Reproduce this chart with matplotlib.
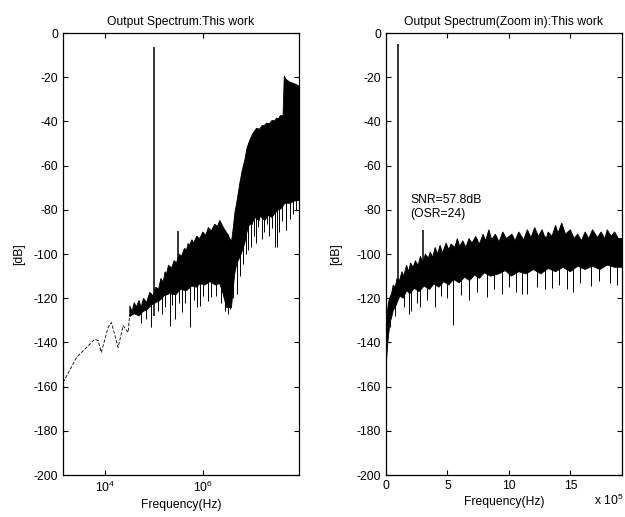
import numpy as np
import matplotlib
matplotlib.use("Agg")
import matplotlib.pyplot as plt

plt.rcParams['font.family'] = ['Liberation Sans', 'DejaVu Sans']
plt.rcParams['mathtext.default'] = 'regular'
plt.rcParams['axes.unicode_minus'] = False

# ---------------- Left panel data (log frequency, Hz / dB) ----------------
left_sparse_f = [1.41e3, 2.65e3, 4.24e3, 6.25e3, 7.3e3, 8.5e3, 1.17e4, 1.37e4, 1.87e4, 2.37e4, 2.99e4, 3.23e4]
left_sparse_db = [-158.1, -146.8, -142.3, -138.5, -139.2, -144.5, -133.2, -131.0, -142.3, -132.4, -135.5, -127.1]

left_up_f = [3.24e4, 3.6e4, 4.0e4, 4.4e4, 5.0e4, 5.5e4, 6.2e4, 7.1e4, 8.3e4, 9.5e4, 1.1e5, 1.25e5,
             1.4e5, 1.55e5, 1.7e5, 1.82e5, 2.0e5, 2.3e5, 2.6e5, 2.9e5, 3.3e5, 3.7e5, 4.2e5, 4.7e5,
             5.0e5, 5.4e5, 6.0e5, 6.5e5, 7.5e5, 8.7e5, 1.0e6, 1.15e6, 1.3e6, 1.5e6, 1.75e6, 2.0e6,
             2.22e6, 2.5e6, 2.8e6, 3.2e6, 3.56e6, 3.85e6, 4.2e6, 4.5e6, 5.0e6, 5.7e6, 6.4e6, 7.2e6,
             8.0e6, 9.1e6, 1.05e7, 1.25e7, 1.45e7, 1.6e7, 1.8e7, 2.0e7, 2.3e7, 2.6e7, 2.9e7, 3.2e7,
             3.5e7, 3.8e7, 4.35e7, 4.6e7, 5.0e7, 5.96e7, 7.5e7, 9.2e7]
left_up_db = [-123.4, -126.0, -122.0, -124.0, -121.0, -124.0, -120.0, -122.0, -117.3, -119.0, -115.0, -116.0,
              -111.0, -113.0, -108.0, -109.0, -105.0, -106.5, -103.0, -104.0, -100.0, -101.0, -97.5, -98.0,
              -95.2, -96.0, -93.5, -95.0, -92.0, -93.0, -90.0, -91.5, -88.0, -89.5, -86.5, -87.5,
              -84.8, -87.0, -89.0, -91.0, -93.0, -94.6, -88.0, -81.6, -76.0, -68.0, -62.0, -57.6,
              -52.0, -48.5, -45.5, -43.1, -43.5, -42.0, -41.8, -40.8, -41.0, -39.5, -39.8, -38.5,
              -38.8, -37.5, -37.2, -19.5, -21.0, -22.2, -23.0, -24.0]

left_lo_f = [3.24e4, 4.0e4, 5.0e4, 6.05e4, 7.5e4, 9.0e4, 1.1e5, 1.32e5, 1.6e5, 2.12e5, 2.8e5, 3.5e5,
             4.65e5, 6.0e5, 7.5e5, 8.7e5, 1.1e6, 1.4e6, 1.8e6, 2.22e6, 2.6e6, 3.05e6, 3.85e6, 4.2e6,
             4.5e6, 5.0e6, 5.7e6, 6.3e6, 7.2e6, 8.0e6, 9.1e6, 1.0e7, 1.15e7, 1.3e7, 1.5e7, 1.85e7,
             2.2e7, 2.6e7, 2.95e7, 3.5e7, 4.0e7, 4.7e7, 6.0e7, 7.5e7, 9.2e7]
left_lo_db = [-128.3, -127.0, -128.0, -126.0, -125.0, -123.0, -122.0, -121.1, -119.0, -117.9, -118.5, -116.0,
              -116.6, -114.5, -115.0, -113.4, -114.0, -112.5, -114.0, -113.4, -118.0, -124.1, -124.3, -115.0,
              -108.8, -104.0, -101.5, -99.0, -95.2, -90.0, -86.2, -87.0, -83.3, -84.5, -83.0, -84.8,
              -82.5, -83.5, -81.6, -80.0, -79.5, -77.1, -77.0, -76.0, -75.7]

left_spike_f = [4.4e4, 5.6e4, 7.1e4, 8.6e4, 1.2e5, 1.44e5, 1.7e5, 2.12e5, 2.4e5, 2.77e5, 3.2e5, 3.85e5,
                4.3e5, 5.4e5, 5.6e5, 6.5e5, 7.5e5, 8.7e5, 1.0e6, 1.28e6, 1.5e6, 1.9e6, 2.4e6, 2.8e6,
                3.2e6, 3.56e6, 4.2e6, 5.0e6, 5.8e6, 6.65e6, 7.8e6, 8.5e6, 9.86e6, 1.1e7, 1.2e7, 1.35e7,
                1.41e7, 1.6e7, 1.75e7, 2.05e7, 2.3e7, 2.6e7, 2.95e7, 3.2e7, 3.6e7, 4.2e7, 4.9e7, 5.1e7,
                6.0e7, 7.0e7, 8.0e7]
left_spike_db = [-126.4, -131.0, -129.4, -133.2, -126.0, -127.1, -124.0, -132.4, -123.0, -129.4, -122.0, -126.4,
                 -122.0, -128.7, -133.2, -121.0, -124.0, -123.4, -119.0, -121.1, -119.6, -118.8, -122.0, -126.0,
                 -127.0, -124.9, -120.0, -118.0, -110.0, -104.4, -100.0, -98.0, -96.9, -92.0, -95.0, -87.8,
                 -84.8, -93.0, -90.0, -86.3, -92.0, -88.0, -96.9, -96.9, -90.0, -85.0, -89.3, -89.3,
                 -84.0, -82.0, -80.0]

left_tone_f = [1.0e5, 3.05e5]
left_tone_top = [-6.5, -89.6]
left_tone_base = [-128.0, -104.0]

left_xticks = [1e4, 1e6]
left_xticklabels = ['$10^{4}$', '$10^{6}$']

# ---------------- Right panel data (linear frequency, Hz / dB) ----------------
right_up_f = [0, 0.1e5, 0.2e5, 0.32e5, 0.45e5, 0.59e5, 0.75e5, 0.9e5, 1.1e5, 1.3e5, 1.45e5, 1.67e5,
              1.85e5, 2.0e5, 2.2e5, 2.4e5, 2.6e5, 2.8e5, 3.0e5, 3.2e5, 3.45e5, 3.6e5, 3.8e5, 4.0e5,
              4.2e5, 4.4e5, 4.6e5, 4.89e5, 5.1e5, 5.3e5, 5.6e5, 5.8e5, 6.0e5, 6.25e5, 6.5e5, 6.75e5,
              7.0e5, 7.3e5, 7.6e5, 7.9e5, 8.1e5, 8.37e5, 8.6e5, 8.9e5, 9.2e5, 9.5e5, 9.8e5, 10.25e5,
              10.5e5, 10.8e5, 11.2e5, 11.5e5, 11.8e5, 12.1e5, 12.4e5, 12.7e5, 13.0e5, 13.2e5, 13.5e5,
              13.8e5, 14.0e5, 14.3e5, 14.6e5, 15.0e5, 15.3e5, 15.6e5, 15.9e5, 16.2e5, 16.5e5, 16.8e5,
              17.2e5, 17.5e5, 17.8e5, 18.0e5, 18.3e5, 18.6e5, 18.9e5, 19.2e5]
right_up_db = [-130.0, -127.0, -122.0, -119.6, -118.0, -114.0, -115.0, -111.0, -112.0, -108.0, -110.0, -105.0,
               -108.0, -104.0, -106.0, -103.0, -105.5, -101.0, -104.0, -100.0, -102.0, -99.0, -101.5, -97.0,
               -100.0, -96.0, -99.5, -95.0, -98.0, -95.5, -97.0, -93.0, -96.5, -94.0, -97.0, -93.0,
               -95.0, -92.0, -95.5, -91.0, -94.0, -89.0, -93.5, -91.0, -94.5, -90.0, -93.0, -91.0,
               -94.0, -90.0, -93.5, -89.0, -92.5, -88.0, -92.0, -89.0, -93.5, -90.0, -92.0,
               -87.0, -90.5, -86.0, -91.0, -89.0, -93.0, -91.0, -94.0, -90.0, -93.0, -89.0,
               -92.5, -90.0, -93.0, -89.0, -92.0, -90.0, -93.0, -93.0]

right_lo_f = [0, 0.15e5, 0.32e5, 0.45e5, 0.59e5, 0.8e5, 1.13e5, 1.4e5, 1.7e5, 1.93e5, 2.3e5, 2.7e5,
              3.1e5, 3.54e5, 3.9e5, 4.3e5, 4.7e5, 5.1e5, 5.5e5, 5.96e5, 6.4e5, 6.8e5, 7.2e5, 7.6e5,
              8.0e5, 8.5e5, 9.18e5, 9.7e5, 10.2e5, 10.8e5, 11.4e5, 12.0e5, 12.6e5, 13.2e5, 13.8e5,
              14.4e5, 15.0e5, 15.6e5, 16.2e5, 16.8e5, 17.4e5, 18.0e5, 18.6e5, 19.2e5]
right_lo_db = [-151.3, -140.0, -131.0, -129.0, -125.5, -123.5, -119.0, -120.0, -116.5, -118.0, -115.5, -117.0,
               -114.5, -116.0, -113.5, -115.0, -112.5, -114.0, -111.5, -113.0, -110.5, -112.0, -109.5, -111.0,
               -108.5, -110.0, -109.0, -107.5, -110.0, -108.0, -109.0, -107.0, -109.0, -106.5, -108.0,
               -106.0, -108.0, -105.5, -107.0, -105.5, -107.0, -105.0, -106.0, -106.0]

right_spike_f = [0.05e5, 0.13e5, 0.35e5, 0.7e5, 1.5e5, 1.9e5, 2.07e5, 2.5e5, 2.74e5, 3.3e5, 3.95e5, 4.5e5,
                 5.0e5, 5.48e5, 6.1e5, 6.76e5, 7.4e5, 8.24e5, 8.8e5, 9.4e5, 10.0e5, 10.6e5, 11.05e5, 11.5e5,
                 12.3e5, 12.9e5, 13.5e5, 14.1e5, 14.7e5, 15.2e5, 15.8e5, 16.7e5, 17.3e5, 18.2e5, 18.8e5]
right_spike_db = [-140.0, -135.0, -133.0, -128.0, -124.0, -127.0, -126.0, -122.0, -124.0, -121.0, -124.0, -119.0,
                  -120.0, -132.0, -118.5, -121.0, -117.0, -119.3, -116.0, -118.0, -115.0, -117.0, -118.0, -118.0,
                  -115.0, -116.0, -115.5, -114.0, -116.0, -117.0, -113.0, -114.6, -112.0, -113.0, -114.0]

right_tone_f = [1.0e5, 3.0e5]
right_tone_top = [-5.0, -89.0]
right_tone_base = [-118.0, -110.0]

right_xticks = [0, 5e5, 1e6, 1.5e6]
right_xticklabels = ['0', '5', '10', '15']

yticks = list(range(0, -201, -20))

FS = 8.7

fig = plt.figure(figsize=(6.25, 5.17), dpi=100)
axL = fig.add_axes([0.1008, 0.0812, 0.3776, 0.8549])
axR = fig.add_axes([0.6176, 0.0812, 0.3776, 0.8549])


def style(ax):
    ax.set_ylim(-200, 0)
    ax.set_yticks(yticks)
    ax.set_yticklabels([str(v) for v in yticks])
    ax.tick_params(direction='in', length=3.5, width=0.8, top=True, right=True,
                   labelsize=FS, pad=3.5, color='black')
    ax.tick_params(which='minor', length=0, top=False, bottom=False)
    for s in ax.spines.values():
        s.set_linewidth(0.9)
    ax.set_xlabel('Frequency(Hz)', fontsize=FS, labelpad=3)
    ax.set_ylabel('[dB]', fontsize=FS)


# Left panel
axL.set_xscale('log')
axL.fill(np.concatenate([left_up_f, left_lo_f[::-1]]),
         np.concatenate([left_up_db, left_lo_db[::-1]]), color='black', lw=0.6)
axL.plot(left_sparse_f, left_sparse_db, color='black', lw=0.6, ls=(0, (4, 2)))
tops = np.interp(np.log10(left_spike_f), np.log10(left_up_f), left_up_db)
axL.vlines(left_spike_f, left_spike_db, tops, color='black', lw=0.7)
axL.vlines(left_tone_f, left_tone_base, left_tone_top, color='black', lw=1.1)
axL.set_xlim(1.404e3, 9.2e7)
axL.set_xticks(left_xticks)
axL.set_xticklabels(left_xticklabels)
axL.xaxis.set_minor_locator(matplotlib.ticker.NullLocator())
style(axL)
axL.set_title('Output Spectrum:This work', fontsize=FS, pad=6)
axL.yaxis.set_label_coords(-0.161, 0.5)

# Right panel
axR.fill(np.concatenate([right_up_f, right_lo_f[::-1]]),
         np.concatenate([right_up_db, right_lo_db[::-1]]), color='black', lw=0.6)
rtops = np.interp(right_spike_f, right_up_f, right_up_db)
axR.vlines(right_spike_f, right_spike_db, rtops, color='black', lw=0.7)
axR.vlines(right_tone_f, right_tone_base, right_tone_top, color='black', lw=1.1)
axR.set_xlim(0, 1.92e6)
axR.set_xticks(right_xticks)
axR.set_xticklabels(right_xticklabels)
style(axR)
axR.set_title('Output Spectrum(Zoom in):This work', fontsize=FS, pad=6)
axR.yaxis.set_label_coords(-0.186, 0.5)
axR.text(2.0e5, -73, 'SNR=57.8dB\n(OSR=24)', fontsize=FS, va='top', ha='left', linespacing=1.15)
fig.text(623 / 625, 0.023, r'x 10$^{5}$', fontsize=FS, ha='right', va='baseline')

fig.savefig('out.png', dpi=100)
